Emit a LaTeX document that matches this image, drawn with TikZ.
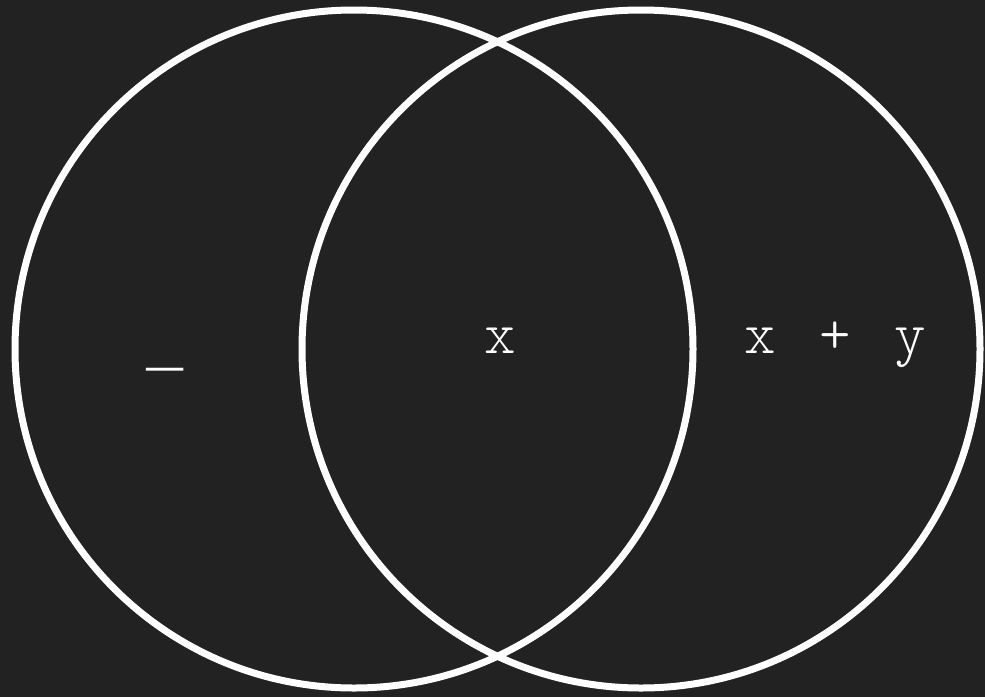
\documentclass[tikz,border=0pt]{standalone}
\usepackage{fontspec}
\newfontfamily\lightmono{Latin Modern Mono Light}
\newfontfamily\linmono{Liberation Mono}
\definecolor{bgc}{RGB}{34,34,34}
\begin{document}
\begin{tikzpicture}[x=1pt,y=-1pt,
  ring/.style={circle,draw=white,line width=7pt,minimum size=678pt,inner sep=0pt},
  lbl/.style={text=white,font=\lightmono\fontsize{60}{70}\selectfont,anchor=base,inner sep=0pt}]
\fill[bgc] (0,0) rectangle (985,697);
\useasboundingbox (0,0) rectangle (985,697);
\node[ring] (L) at (354,349) {};
\node[ring] (R) at (641,349) {};
\node[lbl,font=\linmono\fontsize{62}{70}\selectfont] (t1) at (165,364) {\_};
\node[lbl] (t2) at (500,353) {x};
\node[lbl] (t3) at (835,353) {x\hspace{43.5pt}+\hspace{43.5pt}y};
\end{tikzpicture}
\end{document}
